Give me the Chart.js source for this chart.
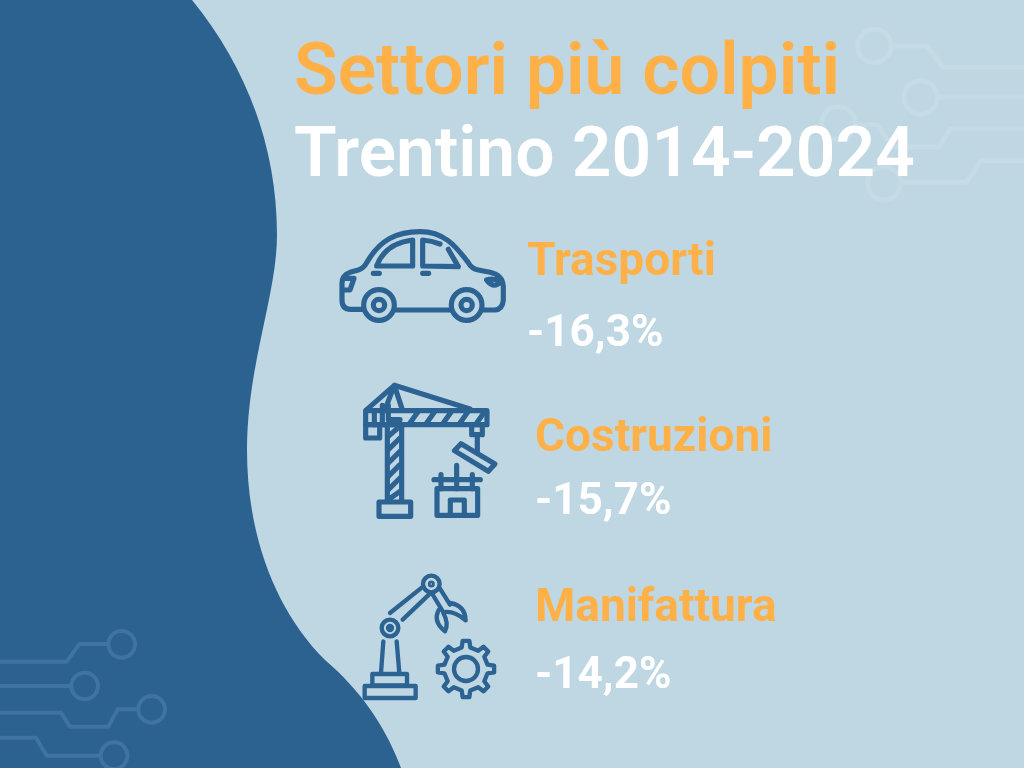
<!DOCTYPE html>
<html lang="it">
<head>
<meta charset="utf-8">
<title>Settori più colpiti</title>
<script src="https://cdn.jsdelivr.net/npm/chart.js@4"></script>
<style>
  html, body { margin: 0; padding: 0; background: #bfd7e3; overflow: hidden; }
  #sfondo, #grafico { position: absolute; left: 0; top: 0; }
  .icona { fill: none; stroke: #2d6392; stroke-width: 15.5; stroke-linejoin: round; stroke-linecap: round; }
  .chiaro { fill: none; stroke: #c5dbe6; stroke-width: 15; stroke-linejoin: round; }
  .scuro { fill: none; stroke: #3f74a0; stroke-width: 12; stroke-linejoin: round; }
</style>
</head>
<body>

<!-- sfondo: forma blu, circuiti e icone -->
<svg id="sfondo" width="1024" height="768" viewBox="0 0 1024 768">
  <path fill="#2c6290" d="M0,0 L192,0 C245,65 277,145 277,235 C277,295 247,365 247,450 C247,535 275,610 325,660 C360,690 385,725 401,768 L0,768 Z"/>

  <g transform="translate(820,20) scale(0.3333)" class="chiaro">
    <circle cx="163" cy="78" r="50"/><path d="M215,78 L322,78 L368,142 L620,142"/>
    <circle cx="302" cy="232" r="50"/><path d="M355,232 L620,232"/>
    <circle cx="55" cy="310" r="50"/><path d="M105,314 L172,314 L215,380 L358,380 L390,328 L620,328"/>
    <circle cx="192" cy="490" r="50"/><path d="M245,487 L440,487 L482,422 L620,422"/>
  </g>

  <g transform="translate(0,620) scale(0.3333)" class="scuro">
    <circle cx="365" cy="73" r="40"/><path d="M325,72 L238,72 L200,125 L0,125"/>
    <circle cx="254" cy="198" r="40"/><path d="M0,198 L214,198"/>
    <circle cx="455" cy="268" r="40"/><path d="M0,278 L183,278 L210,320 L325,320 L353,268 L415,268"/>
    <circle cx="342" cy="407" r="40"/><path d="M0,353 L108,353 L140,407 L302,407"/>
  </g>

  <!-- auto -->
  <g transform="translate(330,220) scale(0.3333)" class="icona">
    <path d="M98,268 L62,268 Q36,268 36,240 L36,190 Q36,165 60,157 L85,150 Q102,145 112,125 C150,60 200,35 270,35 C340,35 375,75 415,128 Q425,146 445,150 L480,157 Q518,165 520,200 L520,240 Q518,268 495,270 L462,270"/>
    <path d="M195,270 L360,270"/>
    <circle cx="147" cy="255" r="46"/><circle cx="147" cy="255" r="17"/>
    <circle cx="410" cy="255" r="46"/><circle cx="410" cy="255" r="17"/>
    <path d="M140,138 Q165,70 248,60 L248,138 Z"/>
    <path d="M330,72 Q305,62 278,60 L278,138 L385,140 L355,88"/>
    <path d="M130,160 L148,160 M278,160 L296,160"/>
    <path d="M40,175 L72,175 L60,210 L40,210"/>
    <path d="M470,180 Q490,172 512,186 Q490,208 470,180"/>
  </g>

  <!-- gru -->
  <g transform="translate(355,378) scale(0.3333)" class="icona">
    <path d="M118,22 L35,95 M118,22 L345,93 M118,22 L90,95 M118,22 L142,95"/>
    <rect x="32" y="98" width="364" height="42"/>
    <path d="M58,98 L58,140 M82,82 L82,140 L140,140 M100,82 L100,125 L135,125"/>
    <rect x="32" y="140" width="42" height="40"/>
    <path d="M165,135 L190,100 M215,135 L240,100 M265,135 L290,100 M315,135 L340,100 M365,135 L390,100"/>
    <path d="M97,140 L97,368 M140,140 L140,368"/>
    <path d="M100,175 L135,145 M100,215 L135,180 M100,255 L135,220 M100,295 L135,260 M100,335 L135,300 M100,365 L135,340"/>
    <rect x="72" y="372" width="95" height="43"/>
    <rect x="350" y="140" width="32" height="30"/>
    <path d="M367,170 L367,225"/>
    <path d="M318,197 L298,218 L400,280 L420,258 Z"/>
    <rect x="246" y="332" width="122" height="80"/>
    <path d="M286,412 L286,366 L328,366 L328,412"/>
    <path d="M237,305 L376,305 M258,290 L258,332 M305,262 L305,332 M352,290 L352,332"/>
  </g>

  <!-- robot -->
  <g transform="translate(355,568) scale(0.3333)" class="icona" style="stroke-width:13">
    <circle cx="229" cy="48" r="25"/><circle cx="229" cy="48" r="4"/>
    <circle cx="105" cy="180" r="25"/><circle cx="105" cy="180" r="6"/>
    <path d="M105,135 L205,55 M143,155 L225,77"/>
    <path d="M232,78 L262,128 M255,62 L285,110"/>
    <path d="M285,105 Q330,112 332,157 Q300,130 272,132"/>
    <path d="M252,125 Q232,160 270,190 Q282,165 265,135"/>
    <path d="M85,220 L78,315 M125,220 L133,315"/>
    <rect x="52" y="318" width="104" height="34"/>
    <rect x="29" y="354" width="153" height="36"/>
    <circle cx="333" cy="303" r="36"/>
    <path id="ingranaggio"/>
  </g>
</svg>

<canvas id="grafico" width="1024" height="768"></canvas>

<script>
/* ============================
   DATI
============================ */

const settori = ['Trasporti', 'Costruzioni', 'Manifattura'];
const variazioni = [-16.3, -15.7, -14.2];

const titolo = 'Settori più colpiti';
const sottotitolo = 'Trentino 2014-2024';

/* ============================
   COLORI E FONT
============================ */

const ARANCIO = '#ffb046';
const BIANCO = '#ffffff';
const FONT = 'Roboto, "Noto Sans", sans-serif';

/* ============================
   INGRANAGGIO (icona)
============================ */

function disegnaIngranaggio() {
  const cx = 333, cy = 303, rEst = 85, rInt = 66, denti = 8;
  let d = '';
  for (let i = 0; i < denti; i++) {
    const a = (i / denti) * Math.PI * 2 - Math.PI / 2;
    const passo = (Math.PI * 2) / denti;
    const pt = (r, ang) => `${(cx + r * Math.cos(ang)).toFixed(1)},${(cy + r * Math.sin(ang)).toFixed(1)}`;
    d += (i === 0 ? 'M' : 'L') + pt(rInt, a - passo * 0.25);
    d += ' L' + pt(rEst, a - passo * 0.15);
    d += ' L' + pt(rEst, a + passo * 0.15);
    d += ' L' + pt(rInt, a + passo * 0.25) + ' ';
  }
  document.getElementById('ingranaggio').setAttribute('d', d + 'Z');
}
disegnaIngranaggio();

/* ============================
   ETICHETTE DELLE RIGHE
============================ */

const etichetteRighe = {
  id: 'etichetteRighe',
  afterDatasetsDraw(chart) {
    const { ctx, scales } = chart;
    const inizioX = [527, 535, 535];
    const scartoNome = [-33, -29, -31];
    const scartoValore = [39, 35, 37];

    ctx.save();
    ctx.textAlign = 'left';
    ctx.textBaseline = 'middle';

    settori.forEach((nome, i) => {
      const y = scales.y.getPixelForValue(i);

      ctx.font = `700 46px ${FONT}`;
      ctx.fillStyle = ARANCIO;
      ctx.fillText(nome, inizioX[i], y + scartoNome[i]);

      ctx.font = `700 44px ${FONT}`;
      ctx.fillStyle = BIANCO;
      const testo = String(variazioni[i]).replace('.', ',') + '%';
      ctx.fillText(testo, inizioX[i], y + scartoValore[i]);
    });

    ctx.restore();
  }
};

/* ============================
   GRAFICO
============================ */

new Chart(document.getElementById('grafico').getContext('2d'), {
  type: 'bar',
  data: {
    labels: settori,
    datasets: [{
      data: variazioni,
      backgroundColor: 'rgba(0,0,0,0)',
      borderWidth: 0
    }]
  },
  plugins: [etichetteRighe],
  options: {
    indexAxis: 'y',
    responsive: false,
    animation: false,
    devicePixelRatio: 1,
    layout: { padding: { left: 294, top: 35, right: 0, bottom: 42 } },
    scales: {
      x: { display: false, min: -20, max: 0 },
      y: { display: false }
    },
    plugins: {
      legend: { display: false },
      tooltip: { enabled: false },
      title: {
        display: true,
        text: titolo,
        align: 'start',
        color: ARANCIO,
        font: { family: FONT, size: 71.5, weight: '600', lineHeight: 1.15 },
        padding: { top: 0, bottom: 0 }
      },
      subtitle: {
        display: true,
        text: sottotitolo,
        align: 'start',
        color: BIANCO,
        font: { family: FONT, size: 69.5, weight: '600', lineHeight: 1.18 },
        padding: { top: 0, bottom: 11 }
      }
    }
  }
});
</script>
</body>
</html>
